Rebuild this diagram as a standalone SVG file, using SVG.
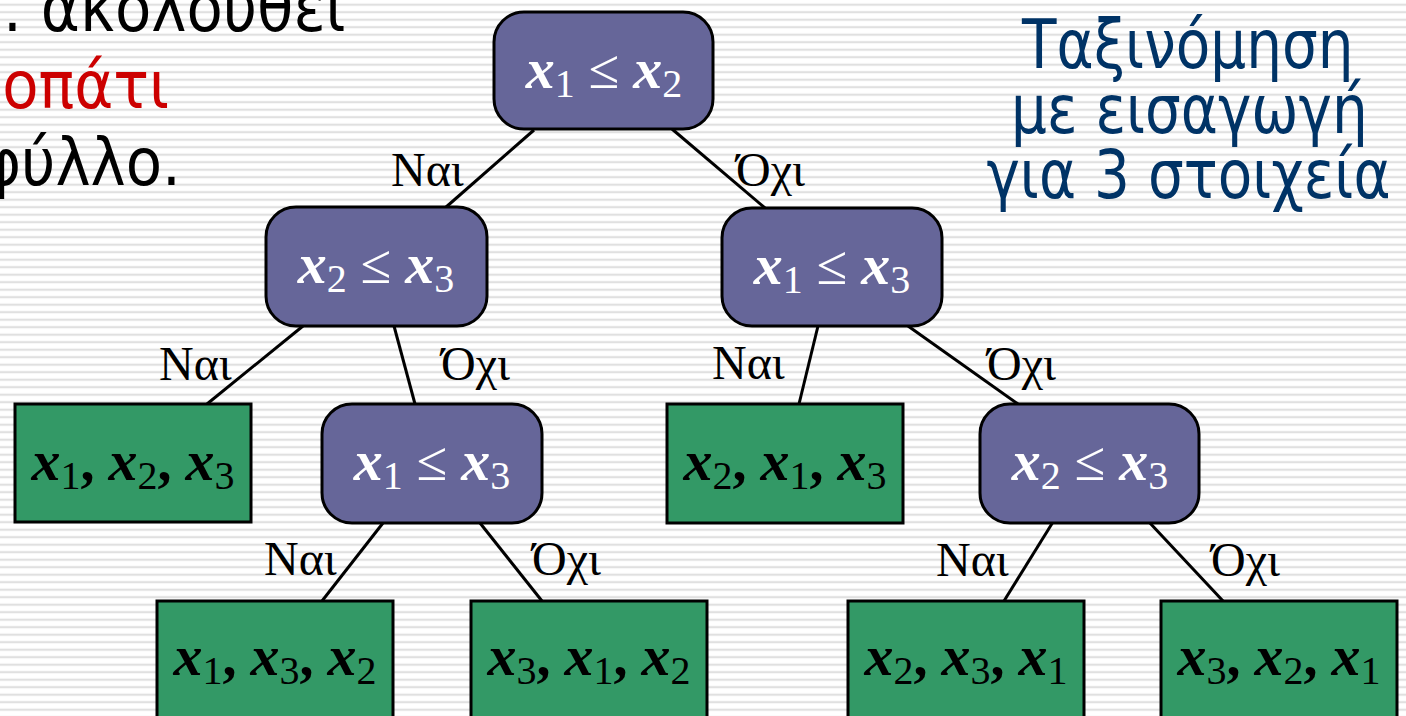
<svg xmlns="http://www.w3.org/2000/svg" width="1406" height="716" viewBox="0 0 1406 716">
<defs>
<pattern id="stripes" width="10" height="7.5" patternUnits="userSpaceOnUse">
<rect width="10" height="7.5" fill="#ffffff"/>
<rect y="3.6" width="10" height="2.2" fill="#e0e0e0"/>
</pattern>
</defs>
<style>
.dec{fill:#666699;stroke:#000;stroke-width:3}
.leaf{fill:#339966;stroke:#000;stroke-width:3}
.m{font-family:"Liberation Serif","Times New Roman",serif;font-size:56px}
.w{fill:#ffffff}
.k{fill:#000000}
.v{font-weight:bold;font-style:italic;font-size:58px}
.b{font-weight:bold}
.s{font-size:40px}
.lbl{font-family:"Liberation Serif","Times New Roman",serif;font-size:48px;fill:#000}
.sans{font-family:"DejaVu Sans","Verdana",sans-serif}
.left{font-size:66px}
.ttl{font-size:68px}
.conn line{stroke:#000;stroke-width:3}
</style>
<rect width="1406" height="716" fill="url(#stripes)"/>

<g id="slide-text">
<g transform="scale(0.9 1)">
<text class="sans left" x="384" y="31" text-anchor="end" fill="#000">γ. ακολουθεί</text>
<text class="sans left" x="188" y="108" text-anchor="end" fill="#cc0000">νοπάτι</text>
<text class="sans left" x="201" y="185" text-anchor="end" fill="#000">φύλλο.</text>
</g>
</g>

<g id="title">
<g transform="scale(0.83 1)" fill="#003366">
<text class="sans ttl" x="1431" y="68" text-anchor="middle">Ταξινόμηση</text>
<text class="sans ttl" x="1433" y="133" text-anchor="middle">με εισαγωγή</text>
<text class="sans ttl" x="1432" y="198" text-anchor="middle">για 3 στοιχεία</text>
</g>
</g>

<g id="connectors" class="conn">
<line x1="534" y1="130" x2="445" y2="208"/>
<line x1="672" y1="129" x2="765" y2="208"/>
<line x1="303" y1="326" x2="207" y2="404"/>
<line x1="394" y1="326" x2="415" y2="404"/>
<line x1="818" y1="326" x2="799" y2="404"/>
<line x1="908" y1="326" x2="1018" y2="404"/>
<line x1="383" y1="523" x2="322" y2="601"/>
<line x1="480" y1="523" x2="542" y2="601"/>
<line x1="1053" y1="522" x2="1004" y2="601"/>
<line x1="1149" y1="522" x2="1223" y2="601"/>
</g>

<g id="labels">
<text class="lbl" x="391" y="186">Ναι</text>
<text class="lbl" x="736" y="186">Όχι</text>
<text class="lbl" x="159" y="380">Ναι</text>
<text class="lbl" x="441" y="380">Όχι</text>
<text class="lbl" x="712" y="379">Ναι</text>
<text class="lbl" x="987" y="380">Όχι</text>
<text class="lbl" x="264" y="575">Ναι</text>
<text class="lbl" x="532" y="575">Όχι</text>
<text class="lbl" x="936" y="576">Ναι</text>
<text class="lbl" x="1211" y="576">Όχι</text>
</g>

<g id="n-root">
<rect class="dec" x="494" y="12" width="219" height="117" rx="30"/>
<text class="m w" x="604" y="88" text-anchor="middle"><tspan class="v">x</tspan><tspan class="s" dy="9">1</tspan><tspan dy="-9"> ≤ </tspan><tspan class="v">x</tspan><tspan class="s" dy="9">2</tspan></text>
</g>
<g id="n-left">
<rect class="dec" x="266" y="207" width="221" height="119" rx="30"/>
<text class="m w" x="376" y="283" text-anchor="middle"><tspan class="v">x</tspan><tspan class="s" dy="9">2</tspan><tspan dy="-9"> ≤ </tspan><tspan class="v">x</tspan><tspan class="s" dy="9">3</tspan></text>
</g>
<g id="n-right">
<rect class="dec" x="722" y="208" width="220" height="118" rx="30"/>
<text class="m w" x="832" y="284" text-anchor="middle"><tspan class="v">x</tspan><tspan class="s" dy="9">1</tspan><tspan dy="-9"> ≤ </tspan><tspan class="v">x</tspan><tspan class="s" dy="9">3</tspan></text>
</g>
<g id="n-left-right">
<rect class="dec" x="322" y="404" width="220" height="119" rx="30"/>
<text class="m w" x="432" y="480" text-anchor="middle"><tspan class="v">x</tspan><tspan class="s" dy="9">1</tspan><tspan dy="-9"> ≤ </tspan><tspan class="v">x</tspan><tspan class="s" dy="9">3</tspan></text>
</g>
<g id="n-right-right">
<rect class="dec" x="980" y="404" width="219" height="119" rx="30"/>
<text class="m w" x="1090" y="480" text-anchor="middle"><tspan class="v">x</tspan><tspan class="s" dy="9">2</tspan><tspan dy="-9"> ≤ </tspan><tspan class="v">x</tspan><tspan class="s" dy="9">3</tspan></text>
</g>

<g id="leaf-123">
<rect class="leaf" x="15" y="404" width="236" height="118"/>
<text class="m k" x="133" y="480" text-anchor="middle"><tspan class="v">x</tspan><tspan class="s" dy="9">1</tspan><tspan class="b" dy="-9">, </tspan><tspan class="v">x</tspan><tspan class="s" dy="9">2</tspan><tspan class="b" dy="-9">, </tspan><tspan class="v">x</tspan><tspan class="s" dy="9">3</tspan></text>
</g>
<g id="leaf-132">
<rect class="leaf" x="157" y="601" width="236" height="120"/>
<text class="m k" x="275" y="675" text-anchor="middle"><tspan class="v">x</tspan><tspan class="s" dy="9">1</tspan><tspan class="b" dy="-9">, </tspan><tspan class="v">x</tspan><tspan class="s" dy="9">3</tspan><tspan class="b" dy="-9">, </tspan><tspan class="v">x</tspan><tspan class="s" dy="9">2</tspan></text>
</g>
<g id="leaf-312">
<rect class="leaf" x="471" y="601" width="236" height="120"/>
<text class="m k" x="589" y="675" text-anchor="middle"><tspan class="v">x</tspan><tspan class="s" dy="9">3</tspan><tspan class="b" dy="-9">, </tspan><tspan class="v">x</tspan><tspan class="s" dy="9">1</tspan><tspan class="b" dy="-9">, </tspan><tspan class="v">x</tspan><tspan class="s" dy="9">2</tspan></text>
</g>
<g id="leaf-213">
<rect class="leaf" x="667" y="404" width="236" height="119"/>
<text class="m k" x="785" y="480" text-anchor="middle"><tspan class="v">x</tspan><tspan class="s" dy="9">2</tspan><tspan class="b" dy="-9">, </tspan><tspan class="v">x</tspan><tspan class="s" dy="9">1</tspan><tspan class="b" dy="-9">, </tspan><tspan class="v">x</tspan><tspan class="s" dy="9">3</tspan></text>
</g>
<g id="leaf-231">
<rect class="leaf" x="848" y="601" width="236" height="120"/>
<text class="m k" x="966" y="675" text-anchor="middle"><tspan class="v">x</tspan><tspan class="s" dy="9">2</tspan><tspan class="b" dy="-9">, </tspan><tspan class="v">x</tspan><tspan class="s" dy="9">3</tspan><tspan class="b" dy="-9">, </tspan><tspan class="v">x</tspan><tspan class="s" dy="9">1</tspan></text>
</g>
<g id="leaf-321">
<rect class="leaf" x="1161" y="601" width="236" height="120"/>
<text class="m k" x="1279" y="675" text-anchor="middle"><tspan class="v">x</tspan><tspan class="s" dy="9">3</tspan><tspan class="b" dy="-9">, </tspan><tspan class="v">x</tspan><tspan class="s" dy="9">2</tspan><tspan class="b" dy="-9">, </tspan><tspan class="v">x</tspan><tspan class="s" dy="9">1</tspan></text>
</g>
</svg>
